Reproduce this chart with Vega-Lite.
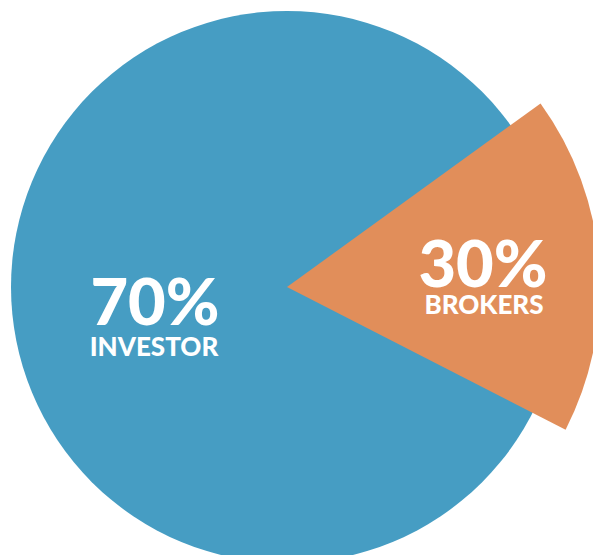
{
  "$schema": "https://vega.github.io/schema/vega-lite/v6.json",
  "width": 574,
  "height": 536,
  "autosize": "none",
  "padding": {"left": 0, "top": 19, "right": 19, "bottom": 0},
  "background": "white",
  "config": {"view": {"stroke": null}},
  "data": {
    "values": [
      {"segment": "INVESTOR", "share": 70, "pct": "70%"},
      {"segment": "BROKERS", "share": 30, "pct": "30%"}
    ]
  },
  "layer": [
    {
      "transform": [{"filter": "datum.segment === 'INVESTOR'"}],
      "mark": {"type": "arc", "radius": 276, "theta": 0, "theta2": 6.2832},
      "encoding": {
        "color": {"field": "segment", "type": "nominal", "legend": null,
          "scale": {"domain": ["INVESTOR", "BROKERS"], "range": ["#469DC3", "#E18E5A"]}}
      }
    },
    {
      "transform": [{"filter": "datum.segment === 'BROKERS'"}],
      "mark": {"type": "arc", "radius": 313},
      "encoding": {
        "theta": {"field": "share", "type": "quantitative",
          "scale": {"domain": [0, 171.4], "range": [0.9442, 7.2274]}},
        "color": {"field": "segment", "type": "nominal", "legend": null,
          "scale": {"domain": ["INVESTOR", "BROKERS"], "range": ["#469DC3", "#E18E5A"]}}
      }
    },
    {
      "transform": [{"filter": "datum.segment === 'INVESTOR'"}],
      "mark": {"type": "text", "font": "Lato", "fontWeight": 900, "fontSize": 65, "color": "white", "align": "center", "baseline": "alphabetic", "dx": -132, "dy": 38},
      "encoding": {"text": {"field": "pct"}}
    },
    {
      "transform": [{"filter": "datum.segment === 'INVESTOR'"}],
      "mark": {"type": "text", "font": "Lato", "fontWeight": 900, "fontSize": 26, "color": "white", "align": "center", "baseline": "alphabetic", "dx": -133, "dy": 69},
      "encoding": {"text": {"field": "segment"}}
    },
    {
      "transform": [{"filter": "datum.segment === 'BROKERS'"}],
      "mark": {"type": "text", "font": "Lato", "fontWeight": 900, "fontSize": 65, "color": "white", "align": "center", "baseline": "alphabetic", "dx": 196, "dy": 0},
      "encoding": {"text": {"field": "pct"}}
    },
    {
      "transform": [{"filter": "datum.segment === 'BROKERS'"}],
      "mark": {"type": "text", "font": "Lato", "fontWeight": 900, "fontSize": 26, "color": "white", "align": "center", "baseline": "alphabetic", "dx": 197, "dy": 27},
      "encoding": {"text": {"field": "segment"}}
    }
  ]
}
